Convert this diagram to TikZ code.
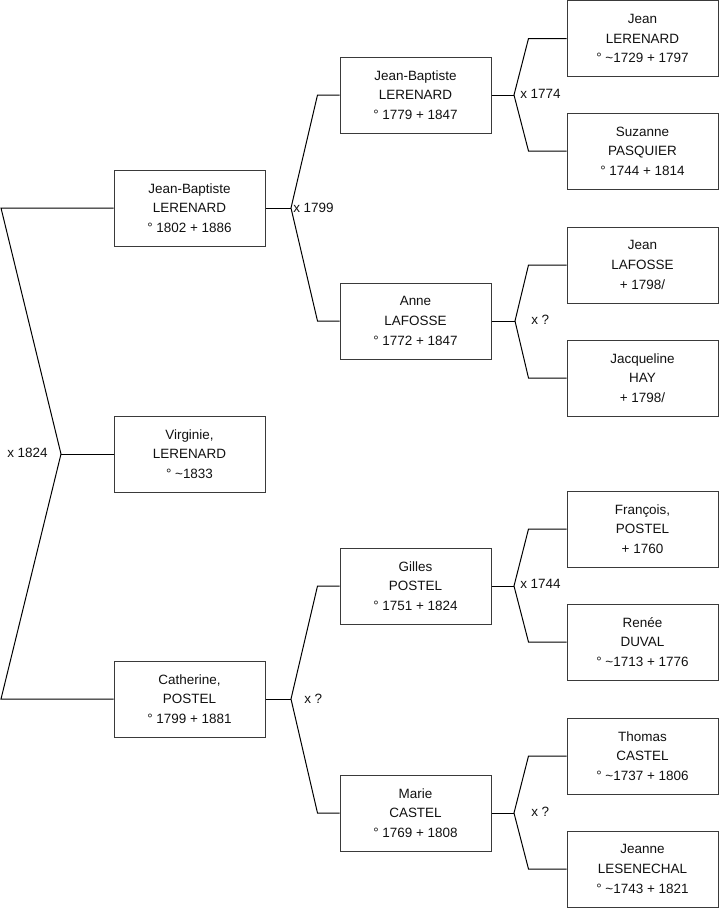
\documentclass[tikz,border=0pt]{standalone}
\usepackage{fontspec}
\setmainfont{Liberation Sans}
\usetikzlibrary{calc}
\definecolor{rahmen}{HTML}{3A3A3A}
\definecolor{ink}{HTML}{111111}
\newcommand{\pers}{\fontsize{10.1}{14.7}\selectfont}
\newcommand{\ca}{\textasciitilde}

\begin{document}
\begin{tikzpicture}[x=0.75pt,y=-0.75pt,
  person/.style={draw=rahmen,line width=0.75pt,minimum width=113.25pt,minimum height=57pt,inner sep=0,align=center,font=\pers,text=ink},
  ast/.style={draw=black,line width=0.75pt},
  heirat/.style={anchor=west,inner sep=0,font=\pers,text=ink}]
\useasboundingbox (0,0) rectangle (719,908);
% generation 1
\node[person] (jbA) at (189.5,208) {Jean-Baptiste\\LERENARD\\° 1802 + 1886};
\node[person] (virg) at (189.5,454) {Virginie,\\LERENARD\\° \ca1833};
\node[person] (cath) at (189.5,699) {Catherine,\\POSTEL\\° 1799 + 1881};
% generation 2
\node[person] (jbB) at (415.5,95) {Jean-Baptiste\\LERENARD\\° 1779 + 1847};
\node[person] (anne) at (415.5,321) {Anne\\LAFOSSE\\° 1772 + 1847};
\node[person] (gilles) at (415.5,586) {Gilles\\POSTEL\\° 1751 + 1824};
\node[person] (marie) at (415.5,813) {Marie\\CASTEL\\° 1769 + 1808};
% generation 3
\node[person] (jeanL) at (642.5,38.5) {Jean\\LERENARD\\° \ca1729 + 1797};
\node[person] (suz) at (642.5,151) {Suzanne\\PASQUIER\\° 1744 + 1814};
\node[person] (jeanF) at (642.5,265) {Jean\\LAFOSSE\\+ 1798/};
\node[person] (jacq) at (642.5,378) {Jacqueline\\HAY\\+ 1798/};
\node[person] (franc) at (642.5,529) {François,\\POSTEL\\+ 1760};
\node[person] (renee) at (642.5,642) {Renée\\DUVAL\\° \ca1713 + 1776};
\node[person] (thom) at (642.5,756) {Thomas\\CASTEL\\° \ca1737 + 1806};
\node[person] (jeanne) at (642.5,869) {Jeanne\\LESENECHAL\\° \ca1743 + 1821};
% Verzweigungen
\coordinate (v0) at (61,454);
\coordinate (r1) at (1,208);
\coordinate (r2) at (1,699);
\coordinate (v1) at (291,208);
\coordinate (v2) at (514,95);
\coordinate (v3) at (515,321);
\coordinate (v4) at (291,699);
\coordinate (v5) at (514,586);
\coordinate (v6) at (514,813);
\draw[ast] (jbA.west) -- (r1) -- (v0) -- (r2) -- (cath.west);
\draw[ast] (v0) -- (virg.west);
\foreach \p/\v/\o/\u/\d in {jbA/v1/jbB/anne/22,jbB/v2/jeanL/suz/38,anne/v3/jeanF/jacq/38,
  cath/v4/gilles/marie/22,gilles/v5/franc/renee/38,marie/v6/thom/jeanne/38}{
  \draw[ast] (\p.east) -- (\v);
  \draw[ast] (\o.west) -- ++(-\d,0) -- (\v) -- ($(\u.west)+(-\d,0)$) -- (\u.west);
}
% Heiraten
\node[heirat] (h0) at (7,453) {x 1824};
\node[heirat] (h1) at (293,208) {x 1799};
\node[heirat] (h2) at (520,94) {x 1774};
\node[heirat] (h3) at (531,320) {x ?};
\node[heirat] (h4) at (304,699) {x ?};
\node[heirat] (h5) at (520,584) {x 1744};
\node[heirat] (h6) at (531,812) {x ?};
\end{tikzpicture}
\end{document}
